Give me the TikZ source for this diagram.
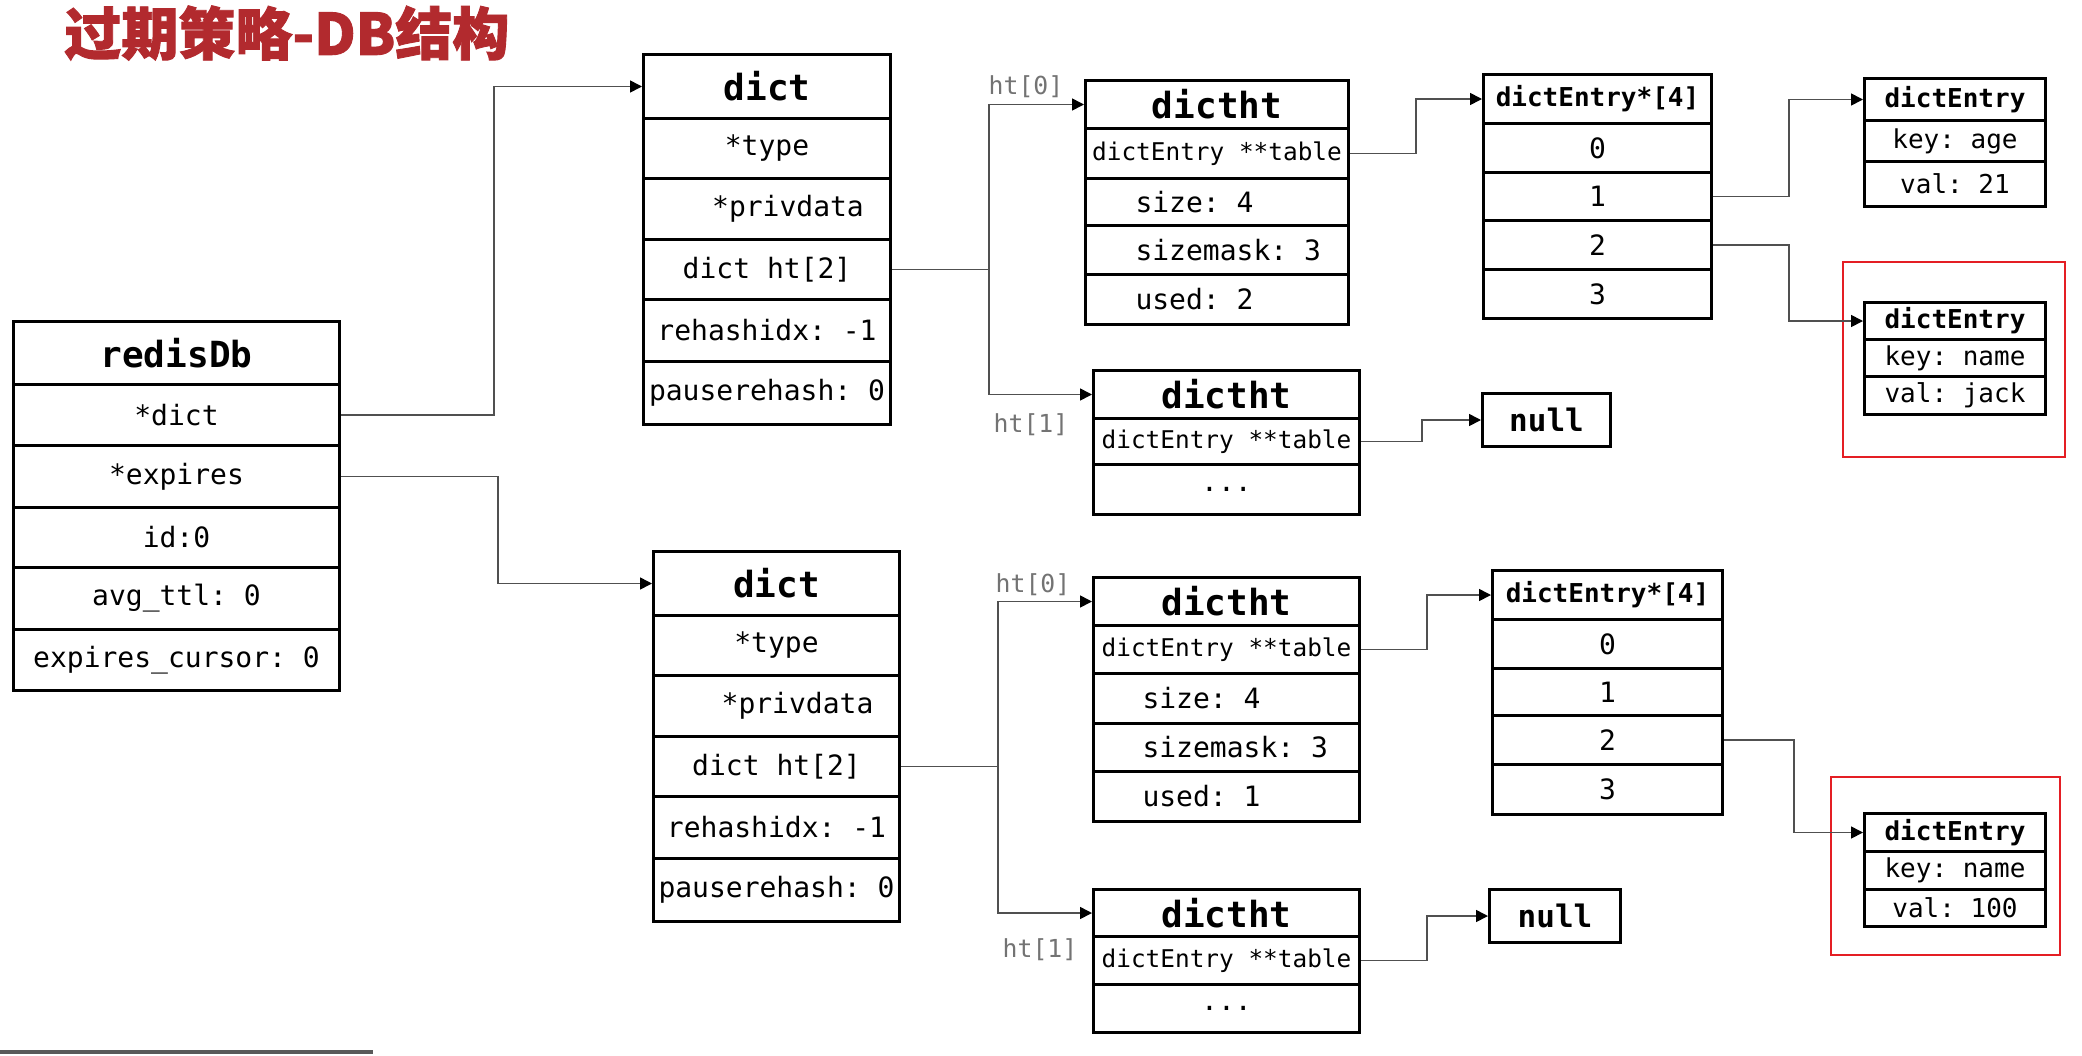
\documentclass[tikz,border=0pt]{standalone}
\usepackage{fontspec}
\setmonofont{DejaVu Sans Mono}
\newfontfamily\cjk{Noto Sans CJK SC}[BoldFeatures={FakeBold=1.6}]
\usetikzlibrary{arrows.meta}
\newdimen\px \px=0.5pt
\definecolor{titlered}{RGB}{178,42,46}
\definecolor{boxred}{RGB}{228,30,36}
\definecolor{conncol}{RGB}{80,80,80}
\newcommand\fHead{\ttfamily\bfseries\fontsize{18}{20}\selectfont}
\newcommand\fRow{\ttfamily\fontsize{14}{16}\selectfont}
\newcommand\fTab{\ttfamily\fontsize{12.2}{14}\selectfont}
\newcommand\fArrH{\ttfamily\bfseries\fontsize{13}{15}\selectfont}
\newcommand\fEnt{\ttfamily\fontsize{13}{15}\selectfont}
\newcommand\fEntH{\ttfamily\bfseries\fontsize{13}{15}\selectfont}
\newcommand\fNull{\ttfamily\bfseries\fontsize{15.5}{17}\selectfont}
\newcommand\fLab{\ttfamily\fontsize{12.4}{14}\selectfont}
\newcommand\cell[7]{\node[cell,#6,minimum width=#4\px,minimum height=#5\px] (#1) at (#2,#3) {#7};}
\newcommand\lft[3]{\makebox[#1\px][l]{\hspace*{#2\px}#3}}
\tikzset{
  cell/.style={draw, line width=1.5pt, fill=white, rectangle, inner sep=0pt, anchor=north west, font=\fRow},
  hd/.style={font=\fHead},
  tb/.style={font=\fTab},
  ah/.style={font=\fArrH},
  en/.style={font=\fEnt},
  enh/.style={font=\fEntH},
  nl/.style={font=\fNull},
  conn/.style={draw=conncol, line width=0.8pt, -{Triangle[length=6pt,width=6pt,color=black]}},
  plain/.style={draw=conncol, line width=0.8pt},
  lab/.style={font=\fLab, text=black!55, inner sep=0pt},
  redbox/.style={draw=boxred, line width=1.2pt},
}
\begin{document}
\begin{tikzpicture}[x=0.5pt,y=-0.5pt]
\useasboundingbox (0,0) rectangle (2082,1055);
% title
\node[anchor=west, inner sep=0pt, text=titlered, font=\cjk\bfseries\fontsize{28.5}{30}\selectfont] (title) at (64,33) {过期策略-DB结构};
% redisDb
\cell{rh}{12}{320}{326}{63}{hd}{redisDb}
\cell{rd}{12}{383}{326}{61}{}{*dict}
\cell{re}{12}{444}{326}{62}{}{*expires}
\cell{ri}{12}{506}{326}{60}{}{id:0}
\cell{ra}{12}{566}{326}{62}{}{avg\_ttl: 0}
\cell{rc}{12}{628}{326}{61}{}{expires\_cursor: 0}
% top dict
\cell{d1h}{642}{53}{247}{64}{hd}{dict}
\cell{d1t}{642}{117}{247}{60}{}{*type}
\cell{d1p}{642}{177}{247}{61}{}{\hspace*{42\px}*privdata}
\cell{d1ht}{642}{238}{247}{60}{}{dict ht[2]}
\cell{d1r}{642}{298}{247}{62}{}{rehashidx: -1}
\cell{d1ps}{642}{360}{247}{63}{}{pauserehash: 0}
% bottom dict
\cell{d2h}{652}{550}{246}{64}{hd}{dict}
\cell{d2t}{652}{614}{246}{60}{}{*type}
\cell{d2p}{652}{674}{246}{61}{}{\hspace*{42\px}*privdata}
\cell{d2ht}{652}{735}{246}{60}{}{dict ht[2]}
\cell{d2r}{652}{795}{246}{62}{}{rehashidx: -1}
\cell{d2ps}{652}{857}{246}{63}{}{pauserehash: 0}
% top dictht ht[0]
\cell{t1ah}{1084}{79}{263}{48}{hd}{dictht}
\cell{t1atab}{1084}{127}{263}{50}{tb}{dictEntry **table}
\cell{t1as}{1084}{177}{263}{47}{}{\lft{263}{50}{size: 4}}
\cell{t1am}{1084}{224}{263}{49}{}{\lft{263}{50}{sizemask: 3}}
\cell{t1au}{1084}{273}{263}{50}{}{\lft{263}{50}{used: 2}}
% top dictht ht[1]
\cell{t1bh}{1092}{369}{266}{48}{hd}{dictht}
\cell{t1btab}{1092}{417}{266}{46}{tb}{dictEntry **table}
\cell{t1bd}{1092}{463}{266}{50}{}{...}
% top dictEntry*[4]
\cell{e1h}{1482}{73}{228}{49}{ah}{dictEntry*[4]}
\cell{e1r0}{1482}{122}{228}{49}{}{0}
\cell{e1r1}{1482}{171}{228}{48}{}{1}
\cell{e1r2}{1482}{219}{228}{49}{}{2}
\cell{e1r3}{1482}{268}{228}{49}{}{3}
% top null
\cell{n1}{1481}{392}{128}{53}{nl}{null}
% dictEntry age
\cell{de1h}{1863}{77}{181}{42}{enh}{dictEntry}
\cell{de1k}{1863}{119}{181}{41}{en}{key: age}
\cell{de1v}{1863}{160}{181}{45}{en}{val: 21}
% dictEntry jack
\cell{de2h}{1863}{301}{181}{37}{enh}{dictEntry}
\cell{de2k}{1863}{338}{181}{37}{en}{key: name}
\cell{de2v}{1863}{375}{181}{38}{en}{val: jack}
% bottom dictht ht[0]
\cell{t2ah}{1092}{576}{266}{48}{hd}{dictht}
\cell{t2atab}{1092}{624}{266}{48}{tb}{dictEntry **table}
\cell{t2as}{1092}{672}{266}{50}{}{\lft{266}{49}{size: 4}}
\cell{t2am}{1092}{722}{266}{48}{}{\lft{266}{49}{sizemask: 3}}
\cell{t2au}{1092}{770}{266}{50}{}{\lft{266}{49}{used: 1}}
% bottom dictht ht[1]
\cell{t2bh}{1092}{888}{266}{47}{hd}{dictht}
\cell{t2btab}{1092}{935}{266}{48}{tb}{dictEntry **table}
\cell{t2bd}{1092}{983}{266}{48}{}{...}
% bottom dictEntry*[4]
\cell{e2h}{1491}{569}{230}{49}{ah}{dictEntry*[4]}
\cell{e2r0}{1491}{618}{230}{49}{}{0}
\cell{e2r1}{1491}{667}{230}{47}{}{1}
\cell{e2r2}{1491}{714}{230}{49}{}{2}
\cell{e2r3}{1491}{763}{230}{50}{}{3}
% bottom null
\cell{n2}{1488}{888}{131}{53}{nl}{null}
% dictEntry 100
\cell{de3h}{1863}{812}{181}{38}{enh}{dictEntry}
\cell{de3k}{1863}{850}{181}{38}{en}{key: name}
\cell{de3v}{1863}{888}{181}{37}{en}{val: 100}
% red highlight boxes
\draw[redbox] (1843,262) rectangle (2065,457);
\draw[redbox] (1831,777) rectangle (2060,955);
% ht labels
\node[lab] (l1) at (1026,87) {ht[0]};
\node[lab] (l2) at (1031,425) {ht[1]};
\node[lab] (l3) at (1033,585) {ht[0]};
\node[lab] (l4) at (1040,950) {ht[1]};
% connectors
\draw[conn] (rd.east) -- ++(153,0) |- (d1h.west);
\draw[conn] (re.east) -- ++(157,0) |- (d2h.west);
\draw[plain] (d1ht.east) -- ++(97,0) coordinate (j1);
\draw[conn] (j1) |- (t1ah.west);
\draw[conn] (j1) |- (t1bh.west);
\draw[plain] (d2ht.east) -- ++(97,0) coordinate (j2);
\draw[conn] (j2) |- (t2ah.west);
\draw[conn] (j2) |- (t2bh.west);
\draw[conn] (t1atab.east) -- ++(66,0) |- (e1h.west);
\draw[conn] (t1btab.east) -- ++(61,0) |- (n1.west);
\draw[conn] (e1r1.east) -- ++(76,0) |- (de1h.west);
\draw[conn] (e1r2.east) -- ++(76,0) |- (de2h.west);
\draw[conn] (t2atab.east) -- ++(66,0) |- (e2h.west);
\draw[conn] (t2btab.east) -- ++(66,0) |- (n2.west);
\draw[conn] (e2r2.east) -- ++(70,0) |- (de3h.west);
% bottom progress bar
\draw[line width=2pt, black!65] (0,1052) -- (373,1052);
\end{tikzpicture}
\end{document}
